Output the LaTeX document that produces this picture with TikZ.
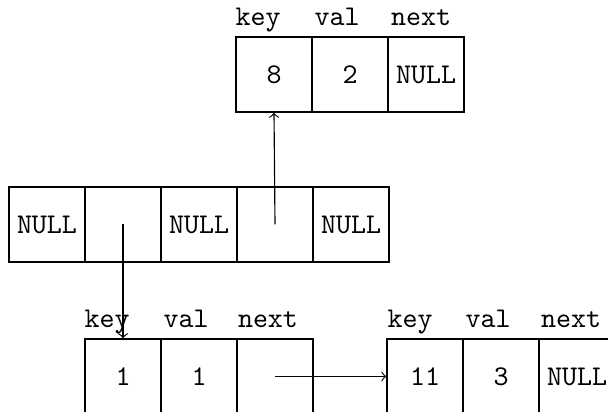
\documentclass[tikz,border=0pt]{standalone}
\begin{document}
\begin{tikzpicture}[x=0.35pt,y=-0.35pt,
  cell/.style={draw,line width=0.4pt,minimum width=26.6pt,minimum height=26.25pt,inner sep=0pt,font=\ttfamily},
  lab/.style={anchor=base,inner sep=0pt,font=\ttfamily},
  link/.style={->,line width=0.4pt}]
\clip (0,0) rectangle (608,412);
% top record
\node[cell] (t1) at (274,74.5) {8};
\node[cell] (t2) at (350,74.5) {2};
\node[cell] (t3) at (426,74.5) {NULL};
\node[lab] (tk) at (258,26) {key};
\node[lab] (tv) at (337,26) {val};
\node[lab] (tn) at (421,26) {next};
% middle array
\node[cell] (m1) at (47,224.5) {NULL};
\node[cell] (m2) at (123,224.5) {};
\node[cell] (m3) at (199,224.5) {NULL};
\node[cell] (m4) at (275,224.5) {};
\node[cell] (m5) at (351,224.5) {NULL};
% bottom-left record
\node[cell] (b1) at (123,376.5) {1};
\node[cell] (b2) at (199,376.5) {1};
\node[cell] (b3) at (275,376.5) {};
\node[lab] (bk) at (107,328) {key};
\node[lab] (bv) at (186,328) {val};
\node[lab] (bn) at (268,328) {next};
% bottom-right record
\node[cell] (c1) at (425,376.5) {11};
\node[cell] (c2) at (501,376.5) {3};
\node[cell] (c3) at (577,376.5) {NULL};
\node[lab] (ck) at (410,328) {key};
\node[lab] (cv) at (488,328) {val};
\node[lab] (cn) at (571,328) {next};
% links
\draw[link] (m2.center) -- (b1.north);
\draw[link] (m4.center) -- (t1.south);
\draw[link] (b3.center) -- (c1.west);
\end{tikzpicture}
\end{document}
